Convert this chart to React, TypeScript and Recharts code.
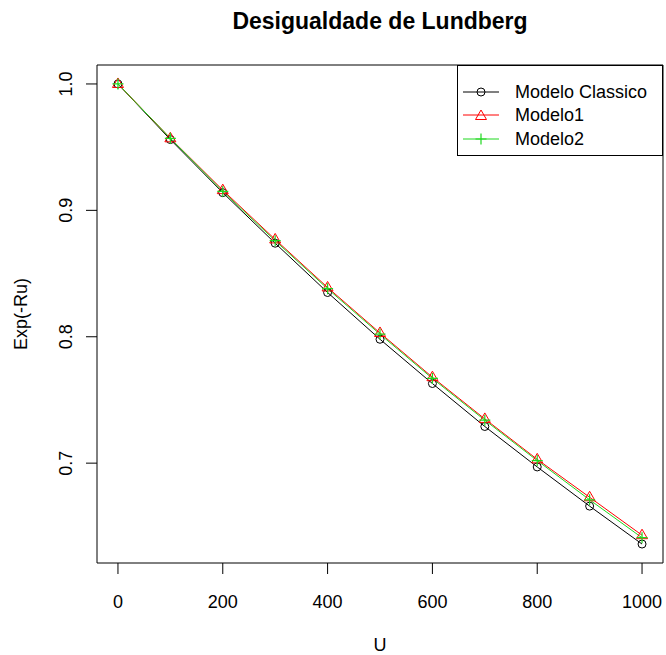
import { Label, Line, LineChart, ReferenceArea, XAxis, YAxis } from "recharts";

const uValues = [0, 100, 200, 300, 400, 500, 600, 700, 800, 900, 1000];
const classico = [1, 0.956, 0.914, 0.874, 0.835, 0.798, 0.763, 0.729, 0.697, 0.666, 0.636];
const modelo1 = [1, 0.957, 0.916, 0.877, 0.839, 0.803, 0.768, 0.735, 0.703, 0.673, 0.643];
const modelo2 = [1, 0.957, 0.915, 0.876, 0.838, 0.802, 0.767, 0.734, 0.702, 0.671, 0.641];
const xTicks = [0, 200, 400, 600, 800, 1000];
const yTicks = [0.7, 0.8, 0.9, 1.0];

const GREEN = "#1ED81E";
const RED = "#FF0000";
const FONT = "'Liberation Sans', Arial, sans-serif";

const data = uValues.map((u, i) => ({
  u,
  classico: classico[i],
  modelo1: modelo1[i],
  modelo2: modelo2[i],
}));

function CircleDot({ cx, cy }: any) {
  return <circle cx={cx} cy={cy} r={4} fill="none" stroke="#000" strokeWidth={1} />;
}

function TriangleDot({ cx, cy }: any) {
  return (
    <polygon
      points={`${cx},${cy - 6} ${cx - 5.5},${cy + 3.5} ${cx + 5.5},${cy + 3.5}`}
      fill="none"
      stroke={RED}
      strokeWidth={1}
    />
  );
}

function PlusDot({ cx, cy }: any) {
  return (
    <path
      d={`M${cx - 5.5},${cy}H${cx + 5.5}M${cx},${cy - 5.5}V${cy + 5.5}`}
      stroke={GREEN}
      strokeWidth={1.2}
    />
  );
}

function YTick({ x, y, payload }: any) {
  return (
    <text
      x={x - 12}
      y={y}
      transform={`rotate(-90, ${x - 12}, ${y})`}
      textAnchor="middle"
      fontSize={18}
      fill="#000"
      fontFamily={FONT}
    >
      {payload.value.toFixed(1)}
    </text>
  );
}

const legendItems = [
  { name: "Modelo Classico", color: "#000", kind: "circle" },
  { name: "Modelo1", color: RED, kind: "triangle" },
  { name: "Modelo2", color: GREEN, kind: "plus" },
];

function LegendSymbol({ color, kind }: { color: string; kind: string }) {
  return (
    <svg width={36} height={14} style={{ display: "block" }}>
      <line x1={0} y1={7} x2={36} y2={7} stroke={color} strokeWidth={1} />
      {kind === "circle" && <CircleDot cx={18} cy={7} />}
      {kind === "triangle" && <TriangleDot cx={18} cy={8} />}
      {kind === "plus" && <PlusDot cx={18} cy={7} />}
    </svg>
  );
}

export default function App() {
  return (
    <div style={{ position: "relative", width: 666, height: 655, background: "#fff", fontFamily: FONT }}>
      <style>{"body{margin:0}"}</style>
      <div
        style={{
          position: "absolute",
          top: 8,
          left: 97,
          width: 566,
          textAlign: "center",
          fontWeight: "bold",
          fontSize: 23,
          color: "#000",
        }}
      >
        Desigualdade de Lundberg
      </div>
      <LineChart width={666} height={655} data={data} margin={{ top: 65, right: 3, bottom: 0, left: 0 }}>
        <XAxis
          dataKey="u"
          type="number"
          domain={[-40, 1040]}
          ticks={xTicks}
          allowDataOverflow
          axisLine={false}
          tickLine={{ stroke: "#000" }}
          tickSize={11}
          tickMargin={21}
          tick={{ fill: "#000", fontSize: 18, fontFamily: FONT }}
          height={92}
        >
          <Label value="U" position="insideBottom" offset={4} fill="#000" fontSize={18} fontFamily={FONT} />
        </XAxis>
        <YAxis
          type="number"
          domain={[0.621, 1.015]}
          ticks={yTicks}
          allowDataOverflow
          axisLine={false}
          tickLine={{ stroke: "#000" }}
          tickSize={11}
          tick={<YTick />}
          width={97}
        >
          <Label
            value="Exp(-Ru)"
            angle={-90}
            position="insideLeft"
            offset={21}
            fill="#000"
            fontSize={18}
            fontFamily={FONT}
            style={{ textAnchor: "middle" }}
          />
        </YAxis>
        <ReferenceArea
          x1={-40}
          x2={1040}
          y1={0.621}
          y2={1.015}
          fill="none"
          stroke="#000"
          strokeOpacity={1}
          fillOpacity={0}
          ifOverflow="visible"
        />
        <Line dataKey="classico" stroke="#000" strokeWidth={1} dot={<CircleDot />} isAnimationActive={false} />
        <Line dataKey="modelo1" stroke={RED} strokeWidth={1} dot={<TriangleDot />} isAnimationActive={false} />
        <Line dataKey="modelo2" stroke={GREEN} strokeWidth={1} dot={<PlusDot />} isAnimationActive={false} />
      </LineChart>
      <div
        style={{
          position: "absolute",
          left: 457,
          top: 65,
          width: 206,
          height: 91,
          border: "1px solid #000",
          background: "#fff",
          boxSizing: "border-box",
          paddingTop: 14,
        }}
      >
        {legendItems.map((it) => (
          <div key={it.name} style={{ display: "flex", alignItems: "center", height: 23.5, paddingLeft: 5 }}>
            <LegendSymbol color={it.color} kind={it.kind} />
            <span style={{ marginLeft: 16, fontSize: 18, color: "#000", lineHeight: "20px" }}>{it.name}</span>
          </div>
        ))}
      </div>
    </div>
  );
}
